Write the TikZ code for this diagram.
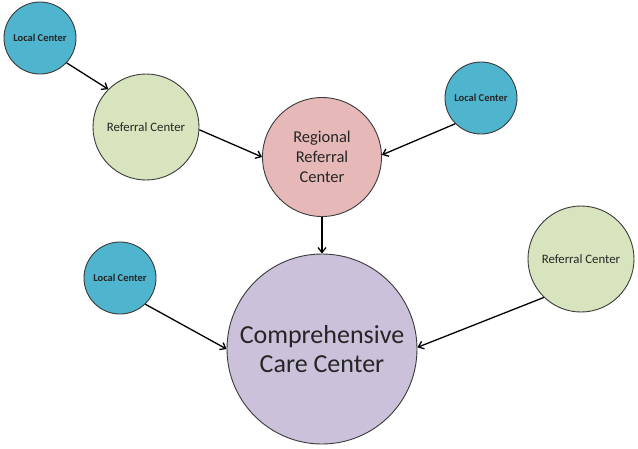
\documentclass[tikz,border=0pt]{standalone}
\usepackage{fontspec}
\setmainfont{Carlito}
\usetikzlibrary{arrows.meta}
\definecolor{localc}{HTML}{4FB4CE}
\definecolor{referralc}{HTML}{D7E4BD}
\definecolor{regionalc}{HTML}{E6B9B8}
\definecolor{compc}{HTML}{CCC1DA}
\definecolor{edgec}{HTML}{3A3A3A}
\begin{document}
\begin{tikzpicture}[x=1pt,y=-1pt,
  ctr/.style={circle,draw=edgec,line width=0.9pt,inner sep=0pt,align=center,text=black!85},
  localnode/.style={ctr,fill=localc,minimum size=72pt,font=\fontsize{10.5}{12}\selectfont\bfseries},
  refnode/.style={ctr,fill=referralc,minimum size=106pt,font=\fontsize{12.8}{15}\selectfont},
  regnode/.style={ctr,fill=regionalc,minimum size=119pt,font=\fontsize{16.5}{20}\selectfont},
  compnode/.style={ctr,fill=compc,minimum size=190pt,font=\fontsize{26}{29.5}\selectfont},
  link/.style={-{Straight Barb[length=5pt,width=8pt]},line width=1.3pt,black}]
\useasboundingbox (0,0) rectangle (638,448);
\node[localnode] (l1) at (40,38) {Local Center};
\node[refnode] (r1) at (146,127) {Referral Center};
\node[regnode] (reg) at (322,157) {Regional\\Referral\\Center};
\node[localnode] (l2) at (481,98) {Local Center};
\node[localnode] (l3) at (120,278) {Local Center};
\node[compnode] (comp) at (322,349) {Comprehensive\\Care Center};
\node[refnode] (r2) at (581,259) {Referral Center};
\draw[link] (l1.-43) -- (r1.135);
\draw[link] (r1.-3) -- (reg.180);
\draw[link] (l2.-135) -- (reg.2);
\draw[link] (reg.south) -- (comp.north);
\draw[link] (l3.-46) -- (comp.180);
\draw[link] (r2.-134) -- (comp.1);
\end{tikzpicture}
\end{document}
